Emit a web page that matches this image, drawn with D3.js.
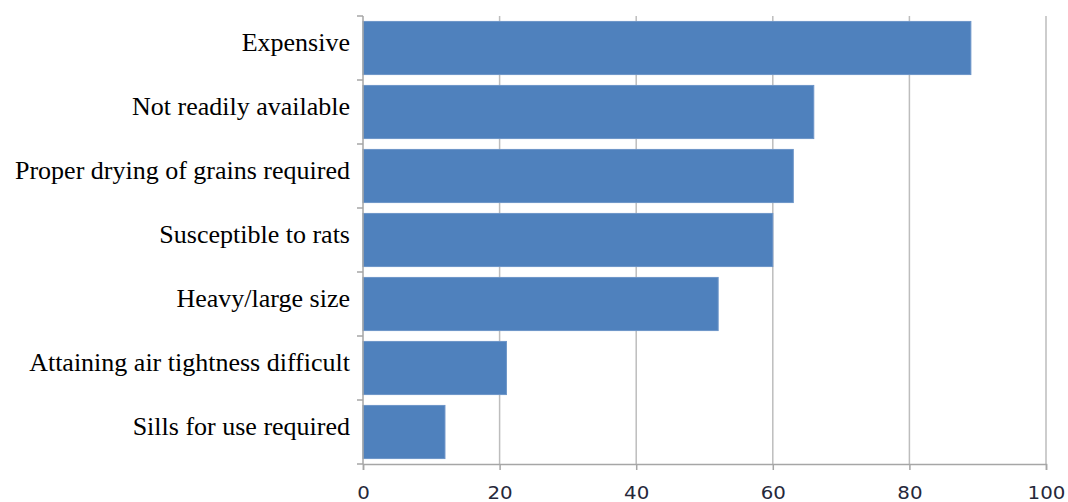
<!DOCTYPE html>
<html>
<head>
<meta charset="utf-8">
<script src="https://cdn.jsdelivr.net/npm/d3@7"></script>
<style>
  body { margin: 0; background: #fff; }
  .cat text { font-family: "Liberation Serif", "Times New Roman", serif; font-size: 26px; fill: #000; }
  .val text { font-family: "DejaVu Sans", Verdana, sans-serif; font-size: 18px; fill: #26283a; }
</style>
</head>
<body>
<div id="chart"></div>
<script>
// categories top to bottom
const categories = [
    "Expensive",
    "Not readily available",
    "Proper drying of grains required",
    "Susceptible to rats",
    "Heavy/large size",
    "Attaining air tightness difficult",
    "Sills for use required"
];
const values = [89, 66, 63, 60, 52, 21, 12];
const xTicks = [0, 20, 40, 60, 80, 100];

const W = 1068, H = 502;
const margin = { top: 16, right: 22, bottom: 38, left: 363 };
const width = W - margin.left - margin.right;
const height = H - margin.top - margin.bottom;

const svg = d3.select("#chart")
    .append("svg")
    .attr("width", W)
    .attr("height", H)
    .append("g")
    .attr("transform", `translate(${margin.left},${margin.top})`);

const x = d3.scaleLinear().domain([0, 100]).range([0, width]);
const y = d3.scaleBand().domain(categories).range([0, height]).paddingInner(0.17).paddingOuter(0.085);

// Gridlines
svg.append("g")
    .selectAll("line")
    .data(xTicks.slice(1))
    .join("line")
    .attr("x1", d => x(d)).attr("x2", d => x(d))
    .attr("y1", 0).attr("y2", height)
    .attr("stroke", "#bdbdbd")
    .attr("stroke-width", 1.5);

// Bars
svg.append("g")
    .selectAll("rect")
    .data(values)
    .join("rect")
    .attr("x", 0)
    .attr("y", (d, i) => y(categories[i]))
    .attr("width", d => x(d))
    .attr("height", y.bandwidth())
    .attr("fill", "#4f81bd")
    .attr("stroke", "#6d95c8")
    .attr("stroke-width", 1);

// Y axis labels
const yAxis = svg.append("g")
    .attr("class", "cat")
    .call(d3.axisLeft(y).tickSize(0).tickPadding(13));
yAxis.select(".domain").remove();
yAxis.selectAll("text").attr("dy", "0.12em");

// category separator ticks
const step = height / categories.length;
svg.append("g")
    .selectAll("line")
    .data(d3.range(categories.length + 1))
    .join("line")
    .attr("x1", -6).attr("x2", 0)
    .attr("y1", i => i * step)
    .attr("y2", i => i * step)
    .attr("stroke", "#a6a6a6")
    .attr("stroke-width", 1.5);

svg.append("line")
    .attr("x1", 0).attr("x2", 0)
    .attr("y1", 0).attr("y2", height)
    .attr("stroke", "#a6a6a6")
    .attr("stroke-width", 1.5);

// X axis
const xAxis = svg.append("g")
    .attr("class", "val")
    .attr("transform", `translate(0,${height})`)
    .call(d3.axisBottom(x).tickValues(xTicks).tickSize(6).tickPadding(16));
xAxis.select(".domain").attr("stroke", "#a6a6a6").attr("stroke-width", 1.5);
xAxis.selectAll(".tick line").attr("stroke", "#a6a6a6").attr("stroke-width", 1.5);
xAxis.selectAll(".tick text").attr("transform", "scale(1.1,1)");
</script>
</body>
</html>
